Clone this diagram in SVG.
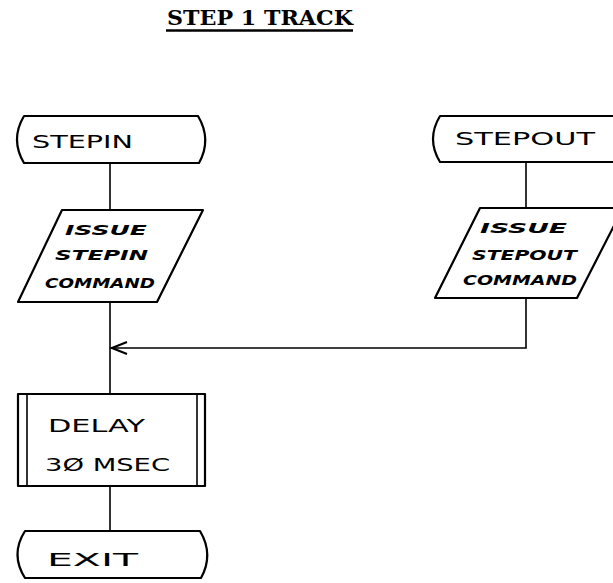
<svg xmlns="http://www.w3.org/2000/svg" width="613" height="583" viewBox="0 0 613 583">
<style>
.shape{fill:#fff;stroke:#000;stroke-width:2.2;stroke-linejoin:round}
.conn{fill:none;stroke:#000;stroke-width:1.6}
.hand{font-family:"DejaVu Sans","Liberation Sans",sans-serif;font-size:17px;fill:#000}
.par{font-family:"DejaVu Sans","Liberation Sans",sans-serif;font-size:14px;font-weight:bold;font-style:italic;fill:#000}
.title{font-family:"DejaVu Serif","Liberation Serif",serif;font-size:20px;font-weight:bold;fill:#000}
</style>
<rect width="613" height="583" fill="#fff"/>
<g id="title">
<text class="title" x="167" y="25" textLength="186" lengthAdjust="spacingAndGlyphs">STEP 1 TRACK</text>
<line x1="166" y1="30.5" x2="353" y2="30.5" stroke="#000" stroke-width="2.4"/>
</g>
<g id="connectors">
<line class="conn" x1="110" y1="163" x2="110" y2="210"/>
<line class="conn" x1="110" y1="302" x2="110" y2="394"/>
<line class="conn" x1="110" y1="486" x2="110" y2="531"/>
<line class="conn" x1="526" y1="162" x2="526" y2="208"/>
<polyline class="conn" points="526,298 526,348 111,348"/>
<polyline points="127,342 112,348 127,354" fill="none" stroke="#000" stroke-width="2.2"/>
</g>
<g id="stepin">
<path class="shape" d="M24,116 H198 Q212,139.5 199,163 H24 Q10,139.5 24,116 Z"/>
<text class="hand" x="32" y="148" textLength="101" lengthAdjust="spacingAndGlyphs">STEPIN</text>
</g>
<g id="issue-stepin">
<polygon class="shape" points="62,210 203,210 157,302 18,302"/>
<text class="par" x="65" y="235" textLength="82" lengthAdjust="spacingAndGlyphs">ISSUE</text>
<text class="par" x="55" y="260" textLength="93" lengthAdjust="spacingAndGlyphs">STEPIN</text>
<text class="par" x="45" y="288" textLength="110" lengthAdjust="spacingAndGlyphs">COMMAND</text>
</g>
<g id="stepout">
<path class="shape" d="M440,116 H630 V162 H440 Q426,139 440,116 Z"/>
<text class="hand" x="455" y="145" textLength="140" lengthAdjust="spacingAndGlyphs">STEPOUT</text>
</g>
<g id="issue-stepout">
<polygon class="shape" points="480,208 623,208 577,298 435,298"/>
<text class="par" x="480" y="233" textLength="87" lengthAdjust="spacingAndGlyphs">ISSUE</text>
<text class="par" x="472" y="260" textLength="105" lengthAdjust="spacingAndGlyphs">STEPOUT</text>
<text class="par" x="463" y="285" textLength="114" lengthAdjust="spacingAndGlyphs">COMMAND</text>
</g>
<g id="delay">
<rect class="shape" x="18" y="394" width="187" height="92"/>
<line x1="27" y1="394" x2="27" y2="486" stroke="#000" stroke-width="1.6"/>
<line x1="197" y1="394" x2="197" y2="486" stroke="#000" stroke-width="1.6"/>
<text class="hand" x="48" y="432" textLength="97" lengthAdjust="spacingAndGlyphs">DELAY</text>
<text class="hand" x="45" y="471" textLength="125" lengthAdjust="spacingAndGlyphs">3Ø MSEC</text>
</g>
<g id="exit">
<path class="shape" d="M25,531 H200 Q214,554.5 201,578 H25 Q10,554.5 25,531 Z"/>
<text class="hand" x="47" y="566" font-size="26" textLength="91" lengthAdjust="spacingAndGlyphs">EXIT</text>
</g>
</svg>
